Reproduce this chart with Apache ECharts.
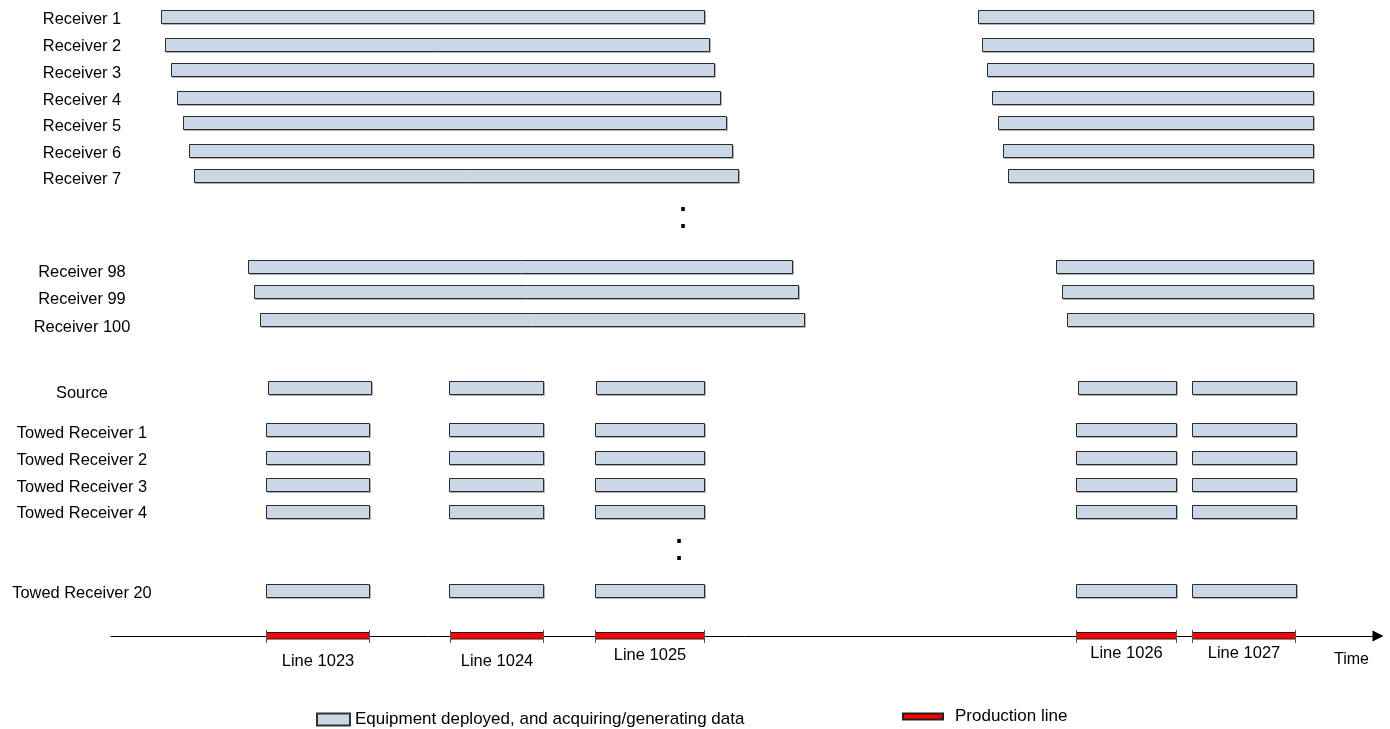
<!DOCTYPE html>
<html>
<head>
<meta charset="utf-8">
<script src="https://cdn.jsdelivr.net/npm/echarts@6/dist/echarts.min.js"></script>
<style>
html,body{margin:0;padding:0;background:#fff;}
#chart{width:1390px;height:729px;}
</style>
</head>
<body>
<div id="chart"></div>
<script>
// ---------- data (time units along the axis, lane positions down the page) ----------
const rowNames = ['Receiver 1','Receiver 2','Receiver 3','Receiver 4','Receiver 5','Receiver 6','Receiver 7',
  'Receiver 98','Receiver 99','Receiver 100',
  'Source','Towed Receiver 1','Towed Receiver 2','Towed Receiver 3','Towed Receiver 4','Towed Receiver 20'];
const rowLane = [16,44,69.5,97,122,150.5,175, 266,291,319, 387, 429,457,484,511.5,590.5];

// Receivers: first deployment window and second deployment window
const receiverStartA = [160.5,165,170.7,176.7,182.7,188.7,194.3, 248.3,254.3,260.3];
const receiverEndA   = [704,708.7,714.3,720.3,726.3,732,737.7, 791.7,797.7,803.7];
const receiverStartB = [978,982,987,992.3,997.7,1003,1008.3, 1056,1062,1067];
const receiverEndB   = [1313.3,1313.3,1313.3,1313.3,1313.3,1313.3,1313.3, 1313.3,1313.3,1313.3];

// Source and towed receivers: active during each production line
const sourceStart = [267.5,449,595.5,1077.7,1192.3];
const sourceEnd   = [370.7,543,704,1175.7,1295.7];
const towedStart  = [265.5,449,595,1076.3,1192.3];
const towedEnd    = [369,543,704,1175.7,1295.7];

// Production lines on the time axis
const lineNames = ['Line 1023','Line 1024','Line 1025','Line 1026','Line 1027'];
const lineStart = [266,449.5,595,1076.3,1192.3];
const lineEnd   = [369,542.5,704,1176,1295.3];

// Ellipsis markers (":") between receiver groups
const ellipsisTime = [683,679];
const ellipsisLane = [217.5,550];

const legendNames = ['Equipment deployed, and acquiring/generating data','Production line'];
const axisName = 'Time';

// ---------- layout / style (not data) ----------
const FONT = '"Liberation Sans", Arial, Helvetica, sans-serif';
const rowLabelY = [19,46.5,73,100,126.5,153,179, 272,299,327, 393, 433.5,460,487,513.5,593.5];
const lineLabelDy = [25.5,25.5,19,17.5,17.5];
const BAR_H = 13;

// ---------- build series data ----------
const barData = [];
for (let i = 0; i < 10; i++) {
  barData.push([receiverStartA[i], receiverEndA[i], rowLane[i]]);
  barData.push([receiverStartB[i], receiverEndB[i], rowLane[i]]);
}
for (let k = 0; k < sourceStart.length; k++) barData.push([sourceStart[k], sourceEnd[k], rowLane[10]]);
for (let r = 11; r < 16; r++) {
  for (let k = 0; k < towedStart.length; k++) barData.push([towedStart[k], towedEnd[k], rowLane[r]]);
}
const lineData = lineNames.map((n, i) => [lineStart[i], lineEnd[i], 636, i]);
const labelData = rowNames.map((n, i) => [rowLabelY[i]]);
const ellipsisData = ellipsisTime.map((t, i) => [t, ellipsisLane[i]]);

const X_MIN = 111, X_MAX = 1378;

const chart = echarts.init(document.getElementById('chart'), null, {renderer: 'canvas'});
chart.setOption({
  animation: false,
  backgroundColor: '#ffffff',
  textStyle: {fontFamily: FONT},
  grid: {left: 111, right: 12, top: 0, height: 636, containLabel: false},
  xAxis: {
    type: 'value', min: X_MIN, max: X_MAX,
    axisLine: {show: true, onZero: false, symbol: ['none','triangle'], symbolSize: [11, 11], lineStyle: {color: '#000', width: 1}},
    axisTick: {show: false}, axisLabel: {show: false}, splitLine: {show: false}
  },
  yAxis: {type: 'value', min: 0, max: 636, inverse: true, show: false, splitLine: {show: false}},
  legend: [
    {data: [{name: legendNames[0], icon: 'rect'}], left: 316, top: 711, padding: 0,
     itemWidth: 33, itemHeight: 12, selectedMode: false,
     textStyle: {fontFamily: FONT, fontSize: 17, color: '#000'}},
    {data: [{name: legendNames[1], icon: 'rect'}], left: 902, top: 708, padding: 0,
     itemWidth: 40, itemHeight: 6, selectedMode: false,
     textStyle: {fontFamily: FONT, fontSize: 17, color: '#000', padding: [4,0,0,7]}}
  ],
  series: [
    {
      name: legendNames[0], type: 'custom', clip: false,
      itemStyle: {color: '#c9d7e6', borderColor: '#333', borderWidth: 1},
      encode: {x: [0,1], y: 2},
      data: barData,
      renderItem: function (params, api) {
        const s = api.coord([api.value(0), api.value(2)]);
        const e = api.coord([api.value(1), api.value(2)]);
        const x0 = Math.round(s[0]) + 0.5, x1 = Math.round(e[0]) + 0.5;
        const y0 = Math.round(s[1] - BAR_H / 2) + 0.5;
        return {
          type: 'group', children: [
            {type: 'rect', shape: {x: x0 + 1, y: y0 + 1, width: x1 - x0, height: BAR_H},
             style: {fill: 'none', stroke: 'rgba(0,0,0,0.3)', lineWidth: 1}},
            {type: 'rect', shape: {x: x0, y: y0, width: x1 - x0, height: BAR_H},
             style: {fill: '#c9d7e6', stroke: '#2a2a2a', lineWidth: 1}}
          ]
        };
      }
    },
    {
      name: legendNames[1], type: 'custom', clip: false,
      itemStyle: {color: '#ff0000', borderColor: '#222', borderWidth: 1},
      encode: {x: [0,1], y: 2},
      data: lineData,
      renderItem: function (params, api) {
        const s = api.coord([api.value(0), api.value(2)]);
        const e = api.coord([api.value(1), api.value(2)]);
        const x0 = Math.round(s[0]) + 0.5, x1 = Math.round(e[0]) + 0.5;
        const yc = Math.round(s[1]);
        const idx = api.value(3);
        return {
          type: 'group', children: [
            {type: 'rect', shape: {x: x0, y: yc - 3.5, width: x1 - x0, height: 6.5},
             style: {fill: '#ff0000', stroke: '#1a1a1a', lineWidth: 1}},
            {type: 'line', shape: {x1: x0, y1: yc - 6, x2: x0, y2: yc + 7}, style: {stroke: '#555', lineWidth: 1}},
            {type: 'line', shape: {x1: x1, y1: yc - 6, x2: x1, y2: yc + 7}, style: {stroke: '#555', lineWidth: 1}},
            {type: 'text', x: (x0 + x1) / 2, y: yc + lineLabelDy[idx],
             style: {text: lineNames[idx], fill: '#000', font: '16.5px ' + FONT, align: 'center', verticalAlign: 'middle'}}
          ]
        };
      }
    },
    {
      name: 'rowLabels', type: 'custom', clip: false, silent: true,
      encode: {y: 0},
      data: labelData,
      renderItem: function (params, api) {
        const p = api.coord([X_MIN, api.value(0)]);
        return {type: 'text', x: p[0] - 29, y: p[1],
          style: {text: rowNames[params.dataIndex], fill: '#000', font: '16.4px ' + FONT, align: 'center', verticalAlign: 'middle'}};
      }
    },
    {
      name: 'axisName', type: 'custom', clip: false, silent: true,
      encode: {x: 0, y: 1},
      data: [[X_MAX, 636]],
      renderItem: function (params, api) {
        const p = api.coord([api.value(0), api.value(1)]);
        return {type: 'text', x: p[0] - 26.5, y: p[1] + 24,
          style: {text: axisName, fill: '#000', font: '16px ' + FONT, align: 'center', verticalAlign: 'middle'}};
      }
    },
    {
      name: 'ellipsis', type: 'custom', clip: false, silent: true,
      encode: {x: 0, y: 1},
      data: ellipsisData,
      renderItem: function (params, api) {
        const p = api.coord([api.value(0), api.value(1)]);
        return {type: 'text', x: p[0], y: p[1],
          style: {text: ':', fill: '#000', font: '38px ' + FONT, align: 'center', verticalAlign: 'middle'}};
      }
    }
  ]
});
</script>
</body>
</html>
